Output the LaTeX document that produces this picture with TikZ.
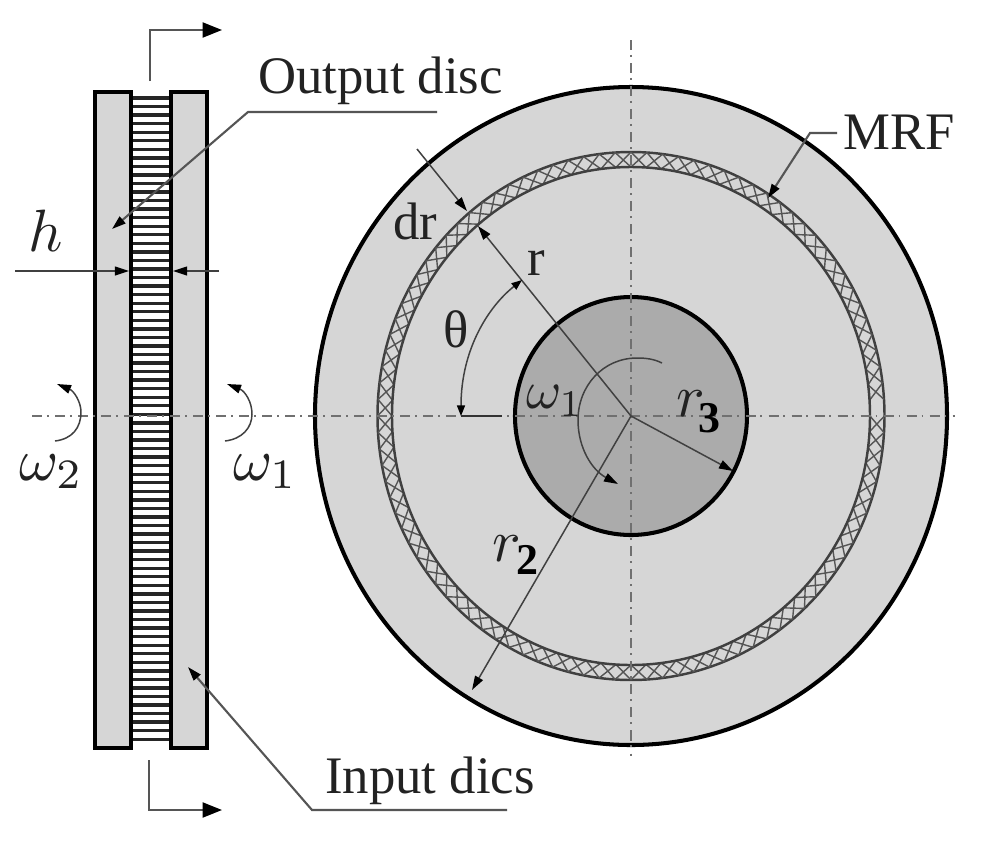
\documentclass[tikz,border=0pt]{standalone}
\usepackage{fontspec}
\setmainfont{Liberation Serif}
\usetikzlibrary{arrows.meta}
\definecolor{discgray}{HTML}{D6D6D6}
\definecolor{hubgray}{HTML}{ABABAB}
\definecolor{inkgray}{HTML}{222222}
\definecolor{leadgray}{HTML}{555555}
\definecolor{axisgray}{HTML}{707070}
\tikzset{
  outline/.style={draw=black,line width=2.3pt,line join=miter},
  lead/.style={draw=leadgray,line width=1.2pt},
  thinlead/.style={draw=black!75,line width=0.85pt},
  axisline/.style={draw=axisgray,line width=1.6pt,dash pattern=on 5.7pt off 2.8pt on 1.1pt off 3.5pt},
  bigtip/.style={-{Stealth[length=11pt,width=8.5pt,inset=0pt,color=black]}},
  smalltip/.style={-{Stealth[length=8pt,width=5pt,inset=0pt,color=black]}},
  bothtip/.style={{Stealth[length=6pt,width=4.5pt,inset=0pt,color=black]}-{Stealth[length=6pt,width=4.5pt,inset=0pt,color=black]}},
  lbl/.style={inner sep=0pt,anchor=base west,text=inkgray,font=\fontsize{30}{32}\selectfont},
  mathlbl/.style={inner sep=0pt,anchor=base west,text=inkgray,scale=3.4},
  numlbl/.style={inner sep=0pt,anchor=base west,text=black,font=\fontsize{25}{27}\selectfont\bfseries},
}
\begin{document}
\begin{tikzpicture}[x=0.02cm,y=-0.02cm]
\useasboundingbox (0,0) rectangle (985,843);
\fill[white] (0,0) rectangle (985,843);

% --- named points ---
\coordinate (c) at (631,416);
\coordinate (outA) at (437,112);
\coordinate (outB) at (248,112);
\coordinate (outT) at (112,229);
\coordinate (inA) at (507,810);
\coordinate (inB) at (312,810);
\coordinate (inT) at (188,667);
\coordinate (secTa) at (150,81);
\coordinate (secTb) at (150,30);
\coordinate (secTc) at (222,30);
\coordinate (secBa) at (149,760);
\coordinate (secBb) at (149,810);
\coordinate (secBc) at (222,810);
\coordinate (hL) at (15,271);
\coordinate (hLt) at (129,271);
\coordinate (hR) at (219,271);
\coordinate (hRt) at (173,271);
\coordinate (axL) at (32,416);
\coordinate (axR) at (955,416);
\coordinate (axT) at (631,40);
\coordinate (axB) at (631,756);
\coordinate (drS) at (417,149);
\coordinate (drT) at (467,211);
\coordinate (rT) at (478,226);
\coordinate (rtwoT) at (472,690);
\coordinate (rthreeT) at (733,471);
\coordinate (mrfA) at (837,133);
\coordinate (mrfB) at (810,133);
\coordinate (mrfT) at (768,198);
\coordinate (thA) at (461,416);
\coordinate (thB) at (522,280);
\coordinate (thC) at (502,416);

% --- side view ---
\fill[white] (131,92) rectangle (171,748);
\foreach \s in {0,...,75}
  \draw[black!85,line width=1.9pt] (133,{98+8.55*\s}) -- (169,{98+8.55*\s});
\draw[outline,fill=discgray] (95,92) rectangle (131,748);
\draw[outline,fill=discgray] (171,92) rectangle (207,748);

% --- front view discs ---
\draw[outline,fill=discgray] (c) ellipse [x radius=316,y radius=329];
\draw[fill=discgray,draw=black!75,line width=1.4pt] (c) ellipse [x radius=253.5,y radius=264];
\foreach \t in {0,3.6,...,356.4}{
  \draw[leadgray,line width=0.8pt]
    ({631+253.5*cos(\t)},{416+264*sin(\t)}) -- ({631+239*cos(\t+3.6)},{416+249*sin(\t+3.6)})
    ({631+253.5*cos(\t+3.6)},{416+264*sin(\t+3.6)}) -- ({631+239*cos(\t)},{416+249*sin(\t)});
}
\draw[fill=discgray,draw=black!75,line width=1.4pt] (c) ellipse [x radius=239,y radius=249];
\draw[outline,fill=hubgray] (c) ellipse [x radius=116,y radius=119];

% --- axes ---
\draw[axisline] (axL) -- (axR);
\draw[axisline] (axT) -- (axB);

% --- section arrows ---
\draw[lead,bigtip] (secTa) -- (secTb) -- (secTc);
\draw[lead,bigtip] (secBa) -- (secBb) -- (secBc);

% --- leaders ---
\draw[lead,smalltip] (outA) -- (outB) -- (outT);
\draw[lead,smalltip] (inA) -- (inB) -- (inT);
\draw[lead,smalltip] (mrfA) -- (mrfB) -- (mrfT);

% --- h dimension ---
\draw[thinlead,smalltip] (hL) -- (hLt);
\draw[thinlead,smalltip] (hR) -- (hRt);

% --- rotation arcs ---
\draw[thinlead,smalltip] (55,441) .. controls (72,439) and (81,428) .. (81,412) .. controls (81,402) and (74,391) .. (57,384);
\draw[thinlead,smalltip] (225,441) .. controls (242,439) and (252,428) .. (252,414) .. controls (252,402) and (245,391) .. (227,384);
\draw[thinlead,smalltip] (662,363) .. controls (654,359) and (646,358) .. (637,358) .. controls (603,358) and (578,386) .. (578,420) .. controls (578,448) and (592,470) .. (618,484);

% --- radial dimensions ---
\draw[thinlead,smalltip] (drS) -- (drT);
\draw[thinlead,smalltip] (c) -- (rT);
\draw[thinlead,smalltip] (c) -- (rtwoT);
\draw[thinlead,smalltip] (c) -- (rthreeT);
\draw[thinlead,bothtip] (thA) .. controls (461,350) and (488,307) .. (thB);
\draw[draw=black!80,line width=1.5pt] (thA) -- (thC);

% --- labels ---
\node[lbl] (lOut) at (258,93) {Output disc};
\node[lbl] (lIn) at (325,793) {Input dics};
\node[lbl] (lMrf) at (843,149) {MRF};
\node[lbl] (lDr) at (393,239) {dr};
\node[lbl] (lR) at (527,275) {r};
\node[lbl] (lTh) at (443,347) {θ};
\node[mathlbl] (lH) at (27,251) {$h$};
\node[mathlbl] (lWb) at (18,480) {$\omega_2$};
\node[mathlbl] (lWa) at (232,480) {$\omega_1$};
\node[mathlbl,scale=0.9] (lWc) at (525,408) {$\omega_1$};
\node[mathlbl] (lRb) at (491,561) {$r$};
\node[numlbl] (lRbn) at (516,574) {2};
\node[mathlbl] (lRc) at (675,416) {$r$};
\node[numlbl] (lRcn) at (698,432) {3};
\end{tikzpicture}
\end{document}
